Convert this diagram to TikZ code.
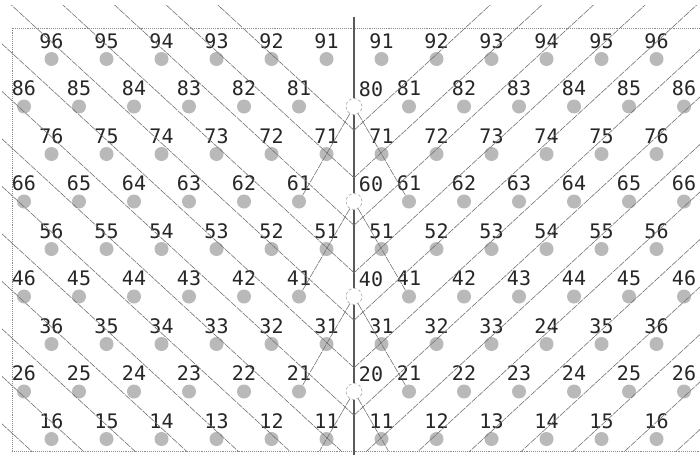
\documentclass[tikz,border=0pt]{standalone}
\usepackage{fontspec}
\newfontfamily\numfont{DejaVu Sans Mono}
\tikzset{
  pin/.style={circle, fill=gray!55, minimum size=14pt, inner sep=0pt},
  gap/.style={circle, draw=gray!80, densely dashed, line width=0.5pt, minimum size=16pt, inner sep=0pt},
  num/.style={font=\numfont\fontsize{20}{20}\selectfont, text=black!85, inner sep=0pt},
  ray/.style={black!55, line width=0.6pt, dash pattern=on 7pt off 1pt},
  frame/.style={black!45, densely dotted, line width=0.9pt},
  axisline/.style={black!65, line width=1.8pt}
}

\begin{document}
\begin{tikzpicture}[x=1pt, y=-1pt]
    \useasboundingbox (0,0) rectangle (700,455);

    % Draw frame
    \draw[frame] (700,28) -- (12,28) -- (12,451) -- (700,451);

    % Draw pins, odd rows
    \foreach \r in {9,7,5,3,1} {
        \pgfmathsetmacro\yy{59+(9-\r)*47.5}
        \foreach \c in {1,...,6} {
            \pgfmathsetmacro\xl{326.5-55*(\c-1)}
            \pgfmathsetmacro\xr{381.5+55*(\c-1)}
            \node[pin] (L\r\c) at (\xl,\yy) {};
            \node[pin] (R\r\c) at (\xr,\yy) {};
            \node[num] (tL\r\c) at (\xl,\yy-18) {\r\c};
            \node[num] (tR\r\c) at (\xr,\yy-18) {\ifnum\r\c=34 24\else\r\c\fi};
        }
    }

    % Draw pins, even rows and axis gaps
    \foreach \r in {8,6,4,2} {
        \pgfmathsetmacro\yy{59+(9-\r)*47.5}
        \foreach \c in {1,...,6} {
            \pgfmathsetmacro\xl{354-55*\c}
            \pgfmathsetmacro\xr{354+55*\c}
            \node[pin] (L\r\c) at (\xl,\yy) {};
            \node[pin] (R\r\c) at (\xr,\yy) {};
            \node[num] (tL\r\c) at (\xl,\yy-18) {\r\c};
            \node[num] (tR\r\c) at (\xr,\yy-18) {\r\c};
        }
        \node[gap] (C\r0) at (354,\yy) {};
        \node[num] (tC\r0) at (371,\yy-17) {\r0};
    }

    % Axis
    \coordinate (atop) at (354,17);
    \coordinate (abot) at (354,455);
    \draw[axisline] (atop) -- (C80);
    \draw[axisline] (C80) -- (C60);
    \draw[axisline] (C60) -- (C40);
    \draw[axisline] (C40) -- (C20);
    \draw[axisline] (C20) -- (abot);

    % Draw connections from the axis gaps
    \coordinate (bl) at (319.6,451);
    \coordinate (br) at (388.4,451);
    \draw[ray] (C80) -- (L61);
    \draw[ray] (C80) -- (R61);
    \draw[ray] (C60) -- (L41);
    \draw[ray] (C60) -- (R41);
    \draw[ray] (C40) -- (L21);
    \draw[ray] (C40) -- (R21);
    \draw[ray] (C20) -- (bl);
    \draw[ray] (C20) -- (br);

    % Slanted lines, left half
    \begin{scope}
        \clip (2,5) rectangle (354,451);
        \foreach \m in {1,...,14} {
            \pgfmathsetmacro\Y{82.75+47.5*\m}
            \draw[ray] (354,\Y) -- ++(-400,-368);
        }
    \end{scope}

    % Slanted lines, right half
    \begin{scope}
        \clip (354,5) rectangle (700,451);
        \foreach \m in {1,...,14} {
            \pgfmathsetmacro\Y{82.75+47.5*\m}
            \draw[ray] (354,\Y) -- ++(400,-368);
        }
    \end{scope}
\end{tikzpicture}
\end{document}
